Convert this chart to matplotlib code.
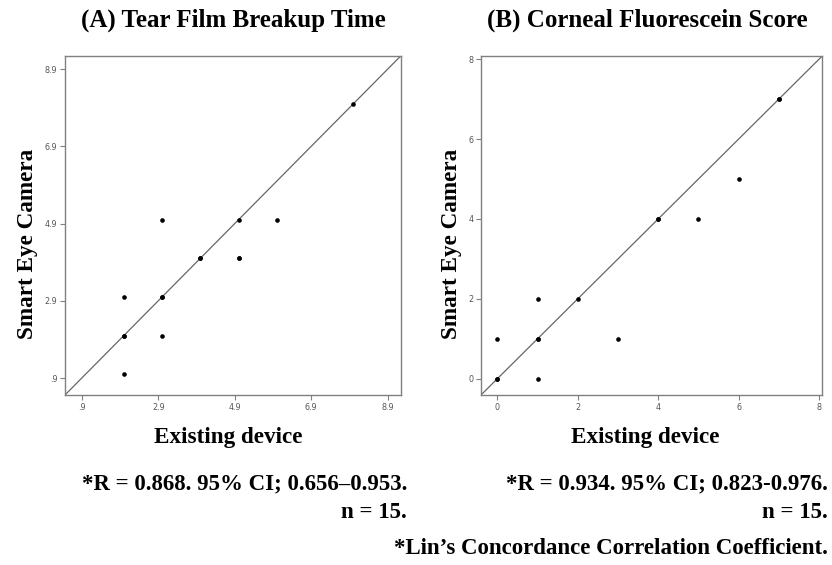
import matplotlib
matplotlib.use("Agg")
import matplotlib.pyplot as plt

# (A) Tear film breakup time, seconds
tbut_existing = [2, 2, 2, 2, 3, 3, 3, 3, 4, 4, 5, 5, 5, 6, 8]
tbut_sec = [1, 2, 2, 3, 2, 3, 3, 5, 4, 4, 4, 4, 5, 5, 8]
tbut_ticks = [0.9, 2.9, 4.9, 6.9, 8.9]
tbut_ticklabels = [".9", "2.9", "4.9", "6.9", "8.9"]

# (B) Corneal fluorescein score
cfs_existing = [0, 0, 0, 1, 1, 1, 1, 2, 3, 4, 4, 5, 6, 7, 7]
cfs_sec = [0, 0, 1, 0, 1, 1, 2, 2, 1, 4, 4, 4, 5, 7, 7]
cfs_ticks = [0, 2, 4, 6, 8]
cfs_ticklabels = ["0", "2", "4", "6", "8"]

stats_a = "*R = 0.868. 95% CI; 0.656\u20130.953."
stats_b = "*R = 0.934. 95% CI; 0.823-0.976."
n_text = "n = 15."
footnote = "*Lin\u2019s Concordance Correlation Coefficient."

serif = {"family": "Liberation Serif", "weight": "bold"}
frame_color = "#808080"
tick_color = "#555555"

W, H = 832, 565
fig = plt.figure(figsize=(W / 100, H / 100), dpi=100)
ax_a = fig.add_axes([0.0781, 0.3009, 0.4035, 0.600])
ax_b = fig.add_axes([0.5781, 0.3009, 0.4102, 0.600])


def style_axes(ax, ticks, labels, lims, xlab_pos, ylab_pos):
    ax.set_xlim(lims)
    ax.set_ylim(lims)
    ax.set_xticks(ticks)
    ax.set_xticklabels(labels)
    ax.set_yticks(ticks)
    ax.set_yticklabels(labels)
    for side in ax.spines.values():
        side.set_color(frame_color)
        side.set_linewidth(1.0)
    ax.tick_params(direction="out", length=3.5, width=0.8, color=frame_color,
                   labelsize=5.8, labelcolor=tick_color, pad=2)
    for lbl in ax.get_xticklabels() + ax.get_yticklabels():
        lbl.set_family("DejaVu Sans")
    # line of equality
    ax.axline((0, 0), slope=1, color="#666666", linewidth=0.9, zorder=1)
    ax.set_xlabel("Existing device", fontsize=16.7, va="center", **serif)
    ax.set_ylabel("Smart Eye Camera", fontsize=16.7, va="center", ha="center", **serif)
    ax.xaxis.set_label_coords(*xlab_pos)
    ax.yaxis.set_label_coords(*ylab_pos)


ax_a.scatter(tbut_existing, tbut_sec, s=11, color="black", zorder=3, linewidths=0)
style_axes(ax_a, tbut_ticks, tbut_ticklabels, (0.46, 9.24),
           (0.486, -0.124), (-0.113, 0.445))

ax_b.scatter(cfs_existing, cfs_sec, s=11, color="black", zorder=3, linewidths=0)
style_axes(ax_b, cfs_ticks, cfs_ticklabels, (-0.41, 8.08),
           (0.482, -0.124), (-0.085, 0.445))

fig.text(233 / W, 1 - 20 / H, "(A) Tear Film Breakup Time",
         ha="center", va="center", fontsize=18, **serif)
fig.text(647 / W, 1 - 20 / H, "(B) Corneal Fluorescein Score",
         ha="center", va="center", fontsize=18, **serif)

fig.text(407 / W, 1 - 484 / H, stats_a, ha="right", va="center", fontsize=16.5, **serif)
fig.text(407 / W, 1 - 513 / H, n_text, ha="right", va="center", fontsize=16.5, **serif)
fig.text(828 / W, 1 - 484 / H, stats_b, ha="right", va="center", fontsize=16.5, **serif)
fig.text(828 / W, 1 - 513 / H, n_text, ha="right", va="center", fontsize=16.5, **serif)
fig.text(828 / W, 1 - 549 / H, footnote, ha="right", va="center", fontsize=16.5, **serif)

fig.savefig("out.png", dpi=100)
